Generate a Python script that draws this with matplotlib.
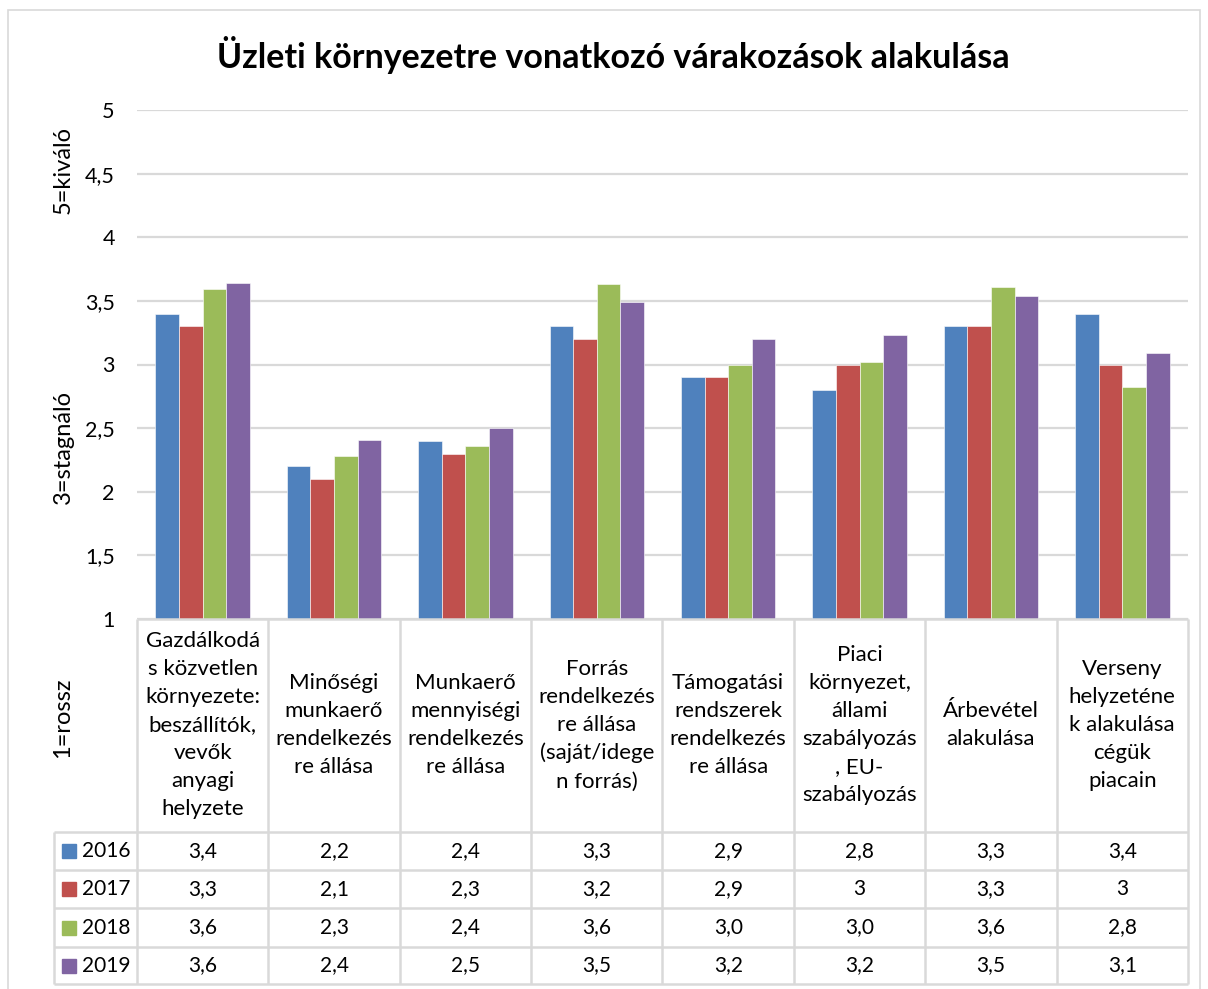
import matplotlib
matplotlib.use("Agg")
import matplotlib.pyplot as plt
from matplotlib.patches import Rectangle

plt.rcParams["font.family"] = ["Lato", "DejaVu Sans"]

TITLE = "Üzleti környezetre vonatkozó várakozások alakulása"

categories = [
    "Gazdálkodá\ns közvetlen\nkörnyezete:\nbeszállítók,\nvevők\nanyagi\nhelyzete",
    "Minőségi\nmunkaerő\nrendelkezés\nre állása",
    "Munkaerő\nmennyiségi\nrendelkezés\nre állása",
    "Forrás\nrendelkezés\nre állása\n(saját/idege\nn forrás)",
    "Támogatási\nrendszerek\nrendelkezés\nre állása",
    "Piaci\nkörnyezet,\nállami\nszabályozás\n, EU-\nszabályozás",
    "Árbevétel\nalakulása",
    "Verseny\nhelyzeténe\nk alakulása\ncégük\npiacain",
]
years = ["2016", "2017", "2018", "2019"]
v2016 = [3.4, 2.2, 2.4, 3.3, 2.9, 2.8, 3.3, 3.4]
v2017 = [3.3, 2.1, 2.3, 3.2, 2.9, 3.0, 3.3, 3.0]
v2018 = [3.59, 2.28, 2.36, 3.63, 3.00, 3.02, 3.61, 2.82]
v2019 = [3.64, 2.41, 2.50, 3.49, 3.20, 3.23, 3.54, 3.09]
series = [v2016, v2017, v2018, v2019]
# number format used in each row of the data table
row_formats = ["g", "g", ".1f", ".1f"]
colors = ["#4F81BD", "#C0504D", "#9BBB59", "#8064A2"]
y_ticks = [1, 1.5, 2, 2.5, 3, 3.5, 4, 4.5, 5]

W, H = 1208, 989
GRID = "#D9D9D9"
CELL = 131.4  # width of one category column, px


def px_box(x0, y0, x1, y1):
    """Figure-fraction rectangle from pixel corners (top-left origin)."""
    return [x0 / W, 1 - y1 / H, (x1 - x0) / W, (y1 - y0) / H]


def fmt(v, spec):
    return format(v, spec).replace(".", ",")


fig = plt.figure(figsize=(W / 100, H / 100), dpi=100)
fig.patches.append(Rectangle((8 / W, -0.01), (1200 - 8) / W, 1 - 10 / H + 0.01,
                             transform=fig.transFigure, fill=False,
                             edgecolor=GRID, linewidth=1.2))

# bar chart
ax = fig.add_axes(px_box(137, 110, 1188, 619))
n = len(categories)
bw = 0.18
for i, (vals, c) in enumerate(zip(series, colors)):
    xs = [k + (i - 1.5) * bw for k in range(n)]
    ax.bar(xs, [v - 1 for v in vals], bottom=1, width=bw, color=c,
           edgecolor="white", linewidth=0.4, zorder=3)
ax.set_xlim(-0.5, n - 0.5)
ax.set_ylim(1, 5)
ax.set_yticks(y_ticks)
ax.set_yticklabels([fmt(t, "g") for t in y_ticks], fontsize=15.5)
ax.set_xticks([])
ax.tick_params(axis="y", length=0, pad=16)
ax.grid(axis="y", color=GRID, linewidth=1.6, zorder=0)
for s in ax.spines.values():
    s.set_visible(False)

# data table below the axis
leg_w = (137 - 54) / CELL
tax = fig.add_axes(px_box(54, 619, 1188, 985))
tax.set_xlim(-0.5 - leg_w, n - 0.5)
tax.set_ylim(366, 0)
tax.axis("off")
row_edges = [213, 251, 289, 328, 365]
line_kw = dict(color=GRID, linewidth=1.8, clip_on=False, solid_capstyle="butt")
tax.plot([-0.5, n - 0.5], [0, 0], **line_kw)
for y in row_edges:
    tax.plot([-0.5 - leg_w, n - 0.5], [y, y], **line_kw)
for k in range(n + 1):
    tax.plot([k - 0.5, k - 0.5], [0, 365], **line_kw)
tax.plot([-0.5 - leg_w, -0.5 - leg_w], [row_edges[0], 365], **line_kw)

for k, label in enumerate(categories):
    tax.text(k, 106, label, ha="center", va="center", multialignment="center",
             fontsize=16, linespacing=1.5)

for r, (yr, vals, spec, c) in enumerate(zip(years, series, row_formats, colors)):
    yc = (row_edges[r] + row_edges[r + 1]) / 2
    x_key = -0.5 - leg_w + 15.5 / CELL
    tax.plot([x_key], [yc], marker="s", markersize=10, color=c, clip_on=False)
    tax.text(x_key + 13 / CELL, yc, yr, ha="left", va="center", fontsize=15)
    for k, v in enumerate(vals):
        tax.text(k, yc, fmt(v, spec), ha="center", va="center", fontsize=15)

# axis titles and chart title
for txt, y in [("5=kiváló", 170), ("3=stagnáló", 447), ("1=rossz", 718)]:
    fig.text(63 / W, 1 - y / H, txt, rotation=90, ha="center", va="center",
             fontsize=17)
fig.text(613 / W, 1 - 55 / H, TITLE, ha="center", va="center",
         fontsize=24.5, fontweight="bold")

fig.savefig("out.png", dpi=100)
